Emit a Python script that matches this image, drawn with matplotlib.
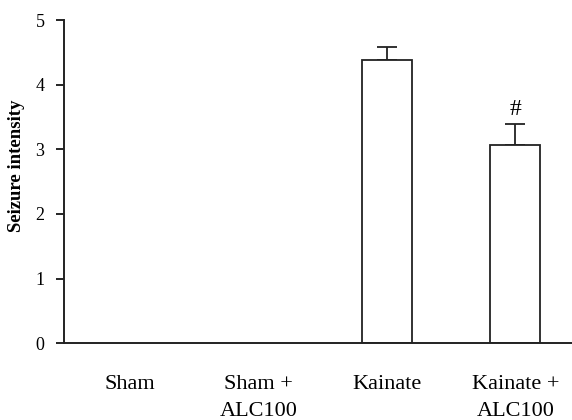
import matplotlib
matplotlib.use("Agg")
import matplotlib.pyplot as plt

categories = ["Sham", "Sham +\nALC100", "Kainate", "Kainate +\nALC100"]
means = [0.0, 0.0, 4.38, 3.07]
errors = [0.0, 0.0, 0.20, 0.33]
marks = ["", "", "", "#"]

plt.rcParams["font.family"] = ["Liberation Serif", "DejaVu Serif"]

fig = plt.figure(figsize=(5.72, 4.2), dpi=100)
ax = fig.add_axes([0.112, 0.183, 0.888, 0.769])

x = list(range(len(categories)))
for xi, m, e in zip(x, means, errors):
    if m > 0:
        ax.bar(xi, m, width=0.39, color="white", edgecolor="#222222", linewidth=1.3, zorder=2)
        ax.errorbar(xi, m, yerr=[[0], [e]], fmt="none", ecolor="#222222",
                    elinewidth=1.3, capsize=7, capthick=1.3, zorder=1)

for xi, m, e, s in zip(x, means, errors, marks):
    if s:
        ax.text(xi, m + e + 0.05, s, ha="center", va="bottom", fontsize=17)

ax.set_xlim(-0.51, 3.44)
ax.set_ylim(0, 5)
ax.set_yticks([0, 1, 2, 3, 4, 5])
ax.set_xticks(x)
ax.set_xticklabels(categories, fontsize=16, linespacing=1.6)
ax.tick_params(axis="x", length=0, pad=23)
ax.tick_params(axis="y", length=6, width=1.2, labelsize=13, pad=8, direction="out")
for side in ["top", "right"]:
    ax.spines[side].set_visible(False)
for side in ["left", "bottom"]:
    ax.spines[side].set_linewidth(1.4)
    ax.spines[side].set_color("#222222")

ax.set_ylabel("Seizure intensity", fontsize=13.5, fontweight="bold")
ax.yaxis.set_label_coords(-0.077, 0.55)

fig.savefig("out.png", dpi=100)
